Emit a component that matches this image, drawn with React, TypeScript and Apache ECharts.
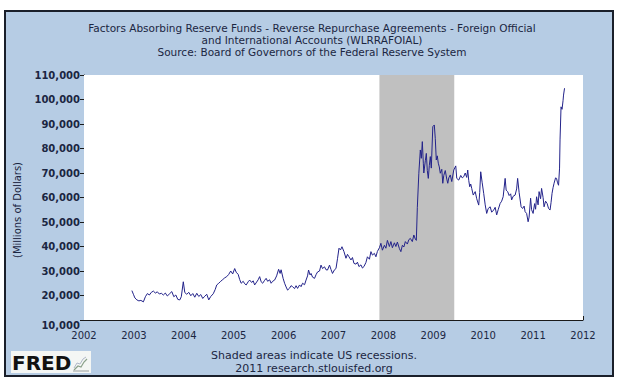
import React, { useEffect, useRef } from "react";
import * as echarts from "echarts";

const titleLines = [
  "Factors Absorbing Reserve Funds - Reverse Repurchase Agreements - Foreign Official",
  "and International Accounts (WLRRAFOIAL)",
  "Source: Board of Governors of the Federal Reserve System",
];
const yAxisName = "(Millions of Dollars)";
const footerLines = ["Shaded areas indicate US recessions.", "2011 research.stlouisfed.org"];
const recession = [2007.92, 2009.42];

const dates = [
  2002.96, 2002.99, 2003.02, 2003.06, 2003.10, 2003.14, 2003.19, 2003.23, 2003.27, 2003.31,
  2003.35, 2003.39, 2003.43, 2003.47, 2003.51, 2003.55, 2003.59, 2003.63, 2003.67, 2003.71,
  2003.76, 2003.80, 2003.84, 2003.88, 2003.92, 2003.95, 2003.99, 2004.02, 2004.06, 2004.10,
  2004.14, 2004.18, 2004.22, 2004.26, 2004.30, 2004.34, 2004.38, 2004.42, 2004.46, 2004.50,
  2004.54, 2004.59, 2004.63, 2004.66, 2004.70, 2004.74, 2004.78, 2004.82, 2004.86, 2004.90,
  2004.94, 2004.98, 2005.02, 2005.05, 2005.09, 2005.12, 2005.15, 2005.19, 2005.22, 2005.25,
  2005.29, 2005.32, 2005.36, 2005.39, 2005.42, 2005.46, 2005.49, 2005.52, 2005.55, 2005.58,
  2005.62, 2005.65, 2005.68, 2005.72, 2005.75, 2005.78, 2005.82, 2005.86, 2005.90, 2005.93,
  2005.95, 2005.99, 2006.02, 2006.05, 2006.08, 2006.12, 2006.15, 2006.18, 2006.22, 2006.25,
  2006.28, 2006.32, 2006.35, 2006.38, 2006.42, 2006.45, 2006.48, 2006.50, 2006.53, 2006.55,
  2006.58, 2006.62, 2006.65, 2006.68, 2006.72, 2006.75, 2006.78, 2006.82, 2006.85, 2006.88,
  2006.92, 2006.95, 2006.98, 2007.02, 2007.05, 2007.08, 2007.11, 2007.14, 2007.17, 2007.21,
  2007.25, 2007.28, 2007.31, 2007.35, 2007.38, 2007.41, 2007.45, 2007.48, 2007.51, 2007.55,
  2007.58, 2007.61, 2007.65, 2007.68, 2007.72, 2007.75, 2007.78, 2007.82, 2007.85, 2007.88,
  2007.92, 2007.95, 2007.98, 2008.02, 2008.05, 2008.08, 2008.12, 2008.15, 2008.18, 2008.22,
  2008.25, 2008.28, 2008.32, 2008.35, 2008.38, 2008.41, 2008.44, 2008.48, 2008.51, 2008.54,
  2008.58, 2008.61, 2008.64, 2008.66, 2008.68, 2008.71, 2008.74, 2008.76, 2008.78, 2008.80,
  2008.81, 2008.84, 2008.86, 2008.88, 2008.90, 2008.92, 2008.94, 2008.96, 2008.99, 2009.02,
  2009.04, 2009.06, 2009.08, 2009.10, 2009.12, 2009.14, 2009.17, 2009.19, 2009.21, 2009.24,
  2009.27, 2009.29, 2009.31, 2009.34, 2009.37, 2009.41, 2009.45, 2009.47, 2009.51, 2009.55,
  2009.58, 2009.61, 2009.64, 2009.67, 2009.69, 2009.71, 2009.73, 2009.75, 2009.77, 2009.80,
  2009.84, 2009.87, 2009.91, 2009.93, 2009.95, 2009.98, 2010.01, 2010.04, 2010.07, 2010.10,
  2010.14, 2010.17, 2010.21, 2010.24, 2010.27, 2010.30, 2010.34, 2010.37, 2010.40, 2010.44,
  2010.46, 2010.49, 2010.52, 2010.55, 2010.57, 2010.60, 2010.64, 2010.67, 2010.69, 2010.72,
  2010.76, 2010.79, 2010.82, 2010.84, 2010.87, 2010.90, 2010.92, 2010.95, 2010.97, 2011.00,
  2011.03, 2011.05, 2011.07, 2011.10, 2011.12, 2011.15, 2011.17, 2011.20, 2011.22, 2011.25,
  2011.28, 2011.31, 2011.34, 2011.36, 2011.38, 2011.40, 2011.42, 2011.45, 2011.47, 2011.49,
  2011.51, 2011.53, 2011.54, 2011.56, 2011.58, 2011.60, 2011.61, 2011.63,
];

const values = [
  22000, 20500, 19000, 18200, 17800, 18000, 17400, 19500, 20800, 20200,
  21300, 21800, 21000, 21500, 20600, 20900, 20200, 21000, 19800, 20600,
  21600, 19500, 20200, 18400, 18200, 19500, 25600, 21200, 20500, 21300,
  19900, 20800, 19300, 20900, 19600, 20400, 18800, 19700, 20500, 18200,
  19600, 20700, 22500, 24300, 25000, 25800, 26500, 27200, 27700, 28600,
  30000, 28800, 31000, 29500, 28600, 26500, 25000, 25800, 24800, 24300,
  25600, 26300, 25300, 26000, 24300, 25500, 26400, 27700, 25600, 25000,
  26200, 27000, 25800, 26400, 25000, 25800, 26300, 28000, 30700, 29000,
  30500, 27000, 25000, 23500, 22200, 23000, 24000, 23600, 22800, 24000,
  22900, 24300, 23600, 25000, 24400, 26300, 28000, 30400, 28400, 29000,
  27500, 27000, 28500, 29600, 30000, 32400, 31000, 31700, 30500, 30400,
  32400, 30600, 29000, 30500, 31000, 35000, 39300, 38600, 39900, 37900,
  35200, 36800, 35800, 34500, 35500, 33100, 32800, 33600, 31800, 32500,
  31200, 31800, 33500, 35800, 34800, 37900, 36500, 37200, 35800, 38000,
  39500, 41300, 38500, 40500, 39300, 42500, 40000, 42000, 39500, 41500,
  40000, 41800, 39200, 37900, 40500, 39800, 42000, 41000, 42800, 43300,
  42000, 44700, 43000, 42500, 56000, 69900, 79400, 76000, 82800, 74000,
  70000, 75000, 78000, 71000, 67800, 73000, 76700, 72000, 88900, 89600,
  84000, 75300, 77000, 74000, 72500, 69900, 71500, 65800, 69000, 71000,
  67500, 65800, 68000, 69200, 66500, 71200, 72900, 67800, 67100, 69000,
  68000, 68500, 70000, 68200, 71200, 67000, 64400, 65500, 63700, 61000,
  62400, 59500, 56900, 62000, 70500, 66000, 61700, 57000, 53500, 55500,
  56200, 54000, 54900, 56000, 52900, 55000, 57600, 58500, 60300, 67800,
  63000, 62400, 60800, 61500, 59000, 60500, 61000, 63500, 67800, 62000,
  56200, 55500, 56500, 54200, 53500, 50100, 52000, 59700, 55000, 53500,
  57500, 55200, 60300, 57000, 62400, 59500, 63700, 60000, 56200, 58500,
  57600, 55500, 54900, 58000, 61700, 64000, 65800, 68000, 67800, 66000,
  65000, 72000, 83500, 97000, 96000, 99500, 101800, 104600,
];

const seriesData = dates.map((d, i) => [d, values[i]]);

const TEXT = "#1b2642";
const FONT = "DejaVu Sans";

export default function App() {
  const ref = useRef<HTMLDivElement>(null);
  useEffect(() => {
    if (!ref.current) return;
    const chart = echarts.init(ref.current, undefined, { renderer: "svg" });
    chart.setOption({
      animation: false,
      backgroundColor: "#ffffff",
      textStyle: { fontFamily: FONT },
      grid: { left: 84, top: 75, right: 37, bottom: 68, show: true, backgroundColor: "#ffffff", borderWidth: 0, z: 1 },
      graphic: [
        {
          type: "rect",
          z: -10,
          silent: true,
          shape: { x: 5, y: 11, width: 608, height: 365 },
          style: { fill: "#b6cce4", stroke: "#1a1f2a", lineWidth: 2 },
        },
        ...titleLines.map((t, i) => ({
          type: "text",
          z: 10,
          x: 312,
          y: 27.5 + i * 12,
          style: { text: t, fill: TEXT, font: `10.5px '${FONT}'`, textAlign: "center", textVerticalAlign: "middle" },
        })),
        {
          type: "text",
          z: 10,
          x: 17,
          y: 210,
          rotation: Math.PI / 2,
          style: { text: yAxisName, fill: TEXT, font: `10px '${FONT}'`, textAlign: "center", textVerticalAlign: "middle" },
        },
        ...footerLines.map((t, i) => ({
          type: "text",
          z: 10,
          x: 314,
          y: 355 + i * 13,
          style: { text: t, fill: TEXT, font: `11px '${FONT}'`, textAlign: "center", textVerticalAlign: "middle" },
        })),
        {
          type: "rect",
          z: 10,
          shape: { x: 11, y: 351, width: 80, height: 22 },
          style: { fill: "#f4f6f4" },
        },
        {
          type: "text",
          z: 11,
          x: 12,
          y: 363,
          style: { text: "FRED", fill: "#111111", font: `bold 20px '${FONT}'`, textAlign: "left", textVerticalAlign: "middle" },
        },
        {
          type: "polyline",
          z: 11,
          shape: { points: [[74, 370], [78, 366], [81, 367], [84, 362], [87, 359]] },
          style: { stroke: "#8aa08a", lineWidth: 1.2, fill: null },
        },
        {
          type: "polyline",
          z: 11,
          shape: { points: [[74, 368], [77, 363], [80, 364], [83, 359], [86, 357]] },
          style: { stroke: "#b0b8c8", lineWidth: 1, fill: null },
        },
        {
          type: "line",
          z: 11,
          shape: { x1: 73, y1: 371, x2: 89, y2: 371 },
          style: { stroke: "#9aa0a0", lineWidth: 1 },
        },
      ],
      xAxis: {
        type: "value",
        min: 2002,
        max: 2012,
        interval: 1,
        axisLine: { show: true, lineStyle: { color: "#1a1a1a", width: 1 } },
        axisTick: { show: true, inside: true, length: 4, lineStyle: { color: "#1a1a1a" } },
        splitLine: { show: false },
        axisLabel: { color: TEXT, fontSize: 10, fontFamily: FONT, margin: 10, formatter: (v: number) => String(Math.round(v)) },
      },
      yAxis: {
        type: "value",
        min: 10000,
        max: 110000,
        interval: 10000,
        axisLine: { show: true, lineStyle: { color: "#1a1a1a", width: 1 } },
        axisTick: { show: true, inside: false, length: 4, lineStyle: { color: "#1a1a1a" } },
        splitLine: { show: true, showMinLine: false, showMaxLine: false, lineStyle: { color: "#a0a0a0", width: 1 } },
        axisLabel: {
          color: TEXT,
          fontSize: 10,
          fontWeight: "bold",
          fontFamily: FONT,
          margin: 4,
          formatter: (v: number) => {
            const s = v.toLocaleString("en-US");
            return v === 10000 ? `{low|${s}}` : s;
          },
          rich: { low: { padding: [11, 0, 0, 0], fontSize: 10, fontWeight: "bold", color: TEXT, fontFamily: FONT } },
        },
      },
      series: [
        {
          type: "line",
          z: 1,
          data: [],
          silent: true,
          markArea: {
            silent: true,
            itemStyle: { color: "#c0c0c0", opacity: 1 },
            data: [[{ xAxis: recession[0] }, { xAxis: recession[1] }]],
          },
        },
        {
          type: "line",
          z: 3,
          data: seriesData,
          showSymbol: false,
          symbol: "none",
          lineStyle: { color: "#23238a", width: 1 },
        },
      ],
    });
    return () => chart.dispose();
  }, []);
  return <div ref={ref} style={{ position: "absolute", left: 0, top: 0, width: 620, height: 388 }} />;
}
